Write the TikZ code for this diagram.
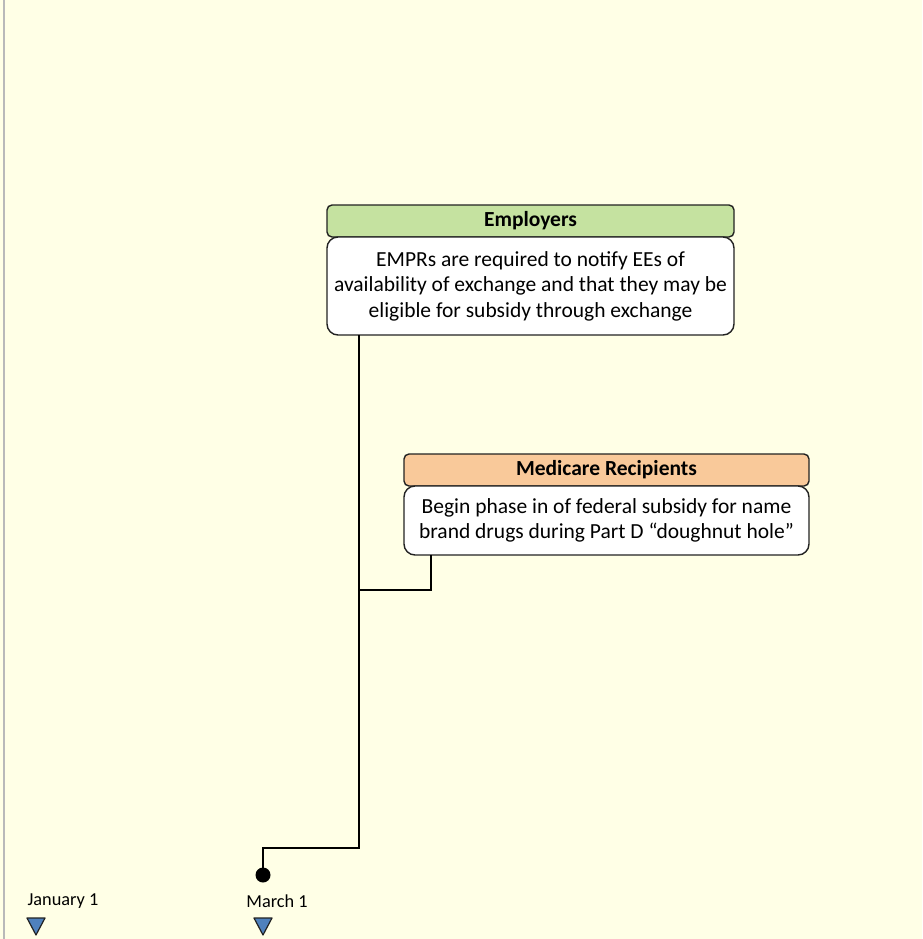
\documentclass[tikz,border=0pt]{standalone}
\usepackage{fontspec}
\setmainfont{Carlito}
\definecolor{bgc}{HTML}{FFFFE6}
\definecolor{greenh}{HTML}{C5E2A0}
\definecolor{orangeh}{HTML}{F9C99A}
\definecolor{triblue}{HTML}{4F81BD}
\definecolor{edgec}{HTML}{222222}
\begin{document}
\begin{tikzpicture}[x=1pt,y=-1pt,
  hdr/.style={draw=edgec,line width=1.4pt,rounded corners=5pt,minimum height=32pt,inner sep=0pt,font=\fontsize{21.5}{25}\selectfont\bfseries},
  bodybox/.style={draw=edgec,line width=1.4pt,rounded corners=11pt,fill=white,inner sep=0pt,align=center,font=\fontsize{21.5}{25.5}\selectfont},
  conn/.style={line width=2pt,black},
  datelbl/.style={font=\fontsize{18.3}{20}\selectfont,inner sep=0pt},
  tri/.style={draw=edgec,line width=1.2pt,fill=triblue,line join=round}]
\fill[bgc] (0,0) rectangle (922,939);
\useasboundingbox (0,0) rectangle (922,939);
\draw[line width=2pt,color=gray!55] (4,0) -- (4,939);
% Employers
\node[hdr,fill=greenh,minimum width=407pt] (emph) at (530.5,221) {Employers};
\node[bodybox,minimum width=407pt,minimum height=98pt] (empb) at (530.5,286) {EMPRs are required to notify EEs of\\availability of exchange and that they may be\\eligible for subsidy through exchange};
% Medicare
\node[hdr,fill=orangeh,minimum width=405pt] (medh) at (606.5,470) {Medicare Recipients};
\node[bodybox,minimum width=405pt,minimum height=69pt] (medb) at (606.5,520.5) {Begin phase in of federal subsidy for name\\brand drugs during Part D “doughnut hole”};
% dot
\node[circle,fill=black,inner sep=0pt,minimum size=15pt] (dot) at (263,875) {};
\coordinate (e1) at (359,335);
\coordinate (e2) at (359,848);
\coordinate (e3) at (263,848);
\coordinate (m1) at (431,555);
\coordinate (m2) at (431,590);
\coordinate (m3) at (359,590);
\draw[conn] (e1) -- (e2) -- (e3) -- (dot.center);
\draw[conn] (m1) -- (m2) -- (m3);
% dates
\node[datelbl] (jan) at (63,901) {January 1};
\node[datelbl] (mar) at (277,901) {March 1};
\draw[tri] (36,935) -- (27,918) -- (45,918) -- cycle;
\draw[tri] (263,935) -- (254,918) -- (272,918) -- cycle;
\end{tikzpicture}
\end{document}
